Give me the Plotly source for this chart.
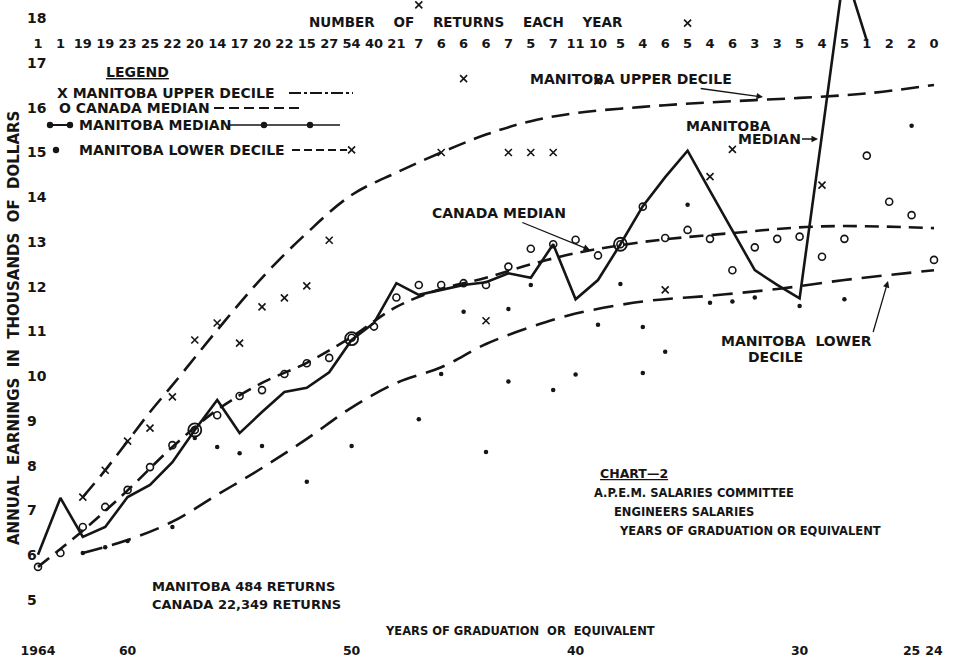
import plotly.graph_objects as go

W, H = 953, 666
INK = "#151515"
FONT = "DejaVu Sans"

# ---------------- data ----------------
years = list(range(1964, 1923, -1))  # 1964 ... 1924
returns_count = [1, 1, 19, 19, 23, 25, 22, 20, 14, 17,
                 20, 22, 15, 27, 54, 40, 21, 7, 6, 6,
                 6, 7, 5, 7, 11, 10, 5, 4, 6, 5,
                 4, 6, 3, 3, 5, 4, 5, 1, 2, 2, 0]

# Manitoba median (solid line), 1964 ... 1927
mb_median_years = list(range(1964, 1926, -1))
mb_median = [6.01, 7.28, 6.41, 6.63, 7.30, 7.57, 8.08, 8.80, 9.47, 8.73,
             9.20, 9.65, 9.74, 10.09, 10.81, 11.19, 12.08, 11.82, 11.93, 12.04,
             12.10, 12.30, 12.20, 12.95, 11.72, 12.15, 12.95, 13.80, 14.45, 15.04,
             14.14, 13.25, 12.37, 12.04, 11.74, 15.40, 19.10, 17.50]

# Canada median points (circles), 1964 ... 1924
canada_median = [5.74, 6.05, 6.63, 7.08, 7.46, 7.97, 8.46, 8.80, 9.13, 9.56,
                 9.69, 10.05, 10.29, 10.41, 10.86, 11.11, 11.76, 12.04, 12.04, 12.08,
                 12.04, 12.45, 12.85, 12.95, 13.05, 12.70, 12.95, 13.79, 13.09, 13.27,
                 13.07, 12.37, 12.88, 13.07, 13.12, 12.67, 13.07, 14.93, 13.90, 13.60,
                 12.60]
big_circle_years = [1957, 1950, 1938]
big_circle_vals = [8.80, 10.84, 12.95]

# Manitoba upper decile points (x)
upper_years = [1962, 1961, 1960, 1959, 1958, 1957, 1956, 1955, 1954, 1953,
               1952, 1951, 1950, 1947, 1946, 1945, 1944, 1943, 1942, 1941,
               1939, 1936, 1935, 1934, 1933, 1929]
upper_vals = [7.30, 7.90, 8.55, 8.84, 9.54, 10.81, 11.19, 10.74, 11.55, 11.75,
              12.02, 13.04, 15.06, 18.30, 15.00, 16.65, 11.24, 15.00, 15.00, 15.00,
              16.60, 11.93, 17.89, 14.46, 15.07, 14.27]

# Manitoba lower decile points (dots)
lower_years = [1962, 1961, 1960, 1958, 1957, 1956, 1955, 1954, 1952, 1950,
               1947, 1946, 1945, 1944, 1943, 1943, 1942, 1941, 1940, 1939,
               1938, 1937, 1937, 1936, 1935, 1934, 1933, 1932, 1930, 1928, 1925]
lower_vals = [6.05, 6.18, 6.32, 6.63, 8.62, 8.42, 8.28, 8.44, 7.64, 8.44,
              9.04, 10.05, 11.44, 8.31, 11.50, 9.88, 12.04, 9.69, 10.04, 11.15,
              12.06, 11.10, 10.07, 10.55, 13.83, 11.64, 11.67, 11.76, 11.57, 11.72, 15.60]

# Hand-fitted smooth curves (dashed)
upper_curve_years = [1962, 1961, 1960, 1959, 1958, 1956, 1954, 1952, 1950, 1948,
                     1946, 1944, 1942, 1940, 1937, 1934, 1930, 1927, 1924]
upper_curve = [7.30, 7.90, 8.55, 9.20, 9.80, 11.03, 12.20, 13.20, 14.05, 14.55,
               15.00, 15.40, 15.70, 15.88, 16.02, 16.12, 16.22, 16.32, 16.51]

canada_curve_years = [1964, 1962, 1960, 1958, 1956, 1954, 1952, 1950, 1948, 1946,
                      1944, 1942, 1940, 1937, 1933, 1929, 1924]
canada_curve = [5.74, 6.55, 7.45, 8.42, 9.25, 9.85, 10.30, 10.88, 11.55, 11.95,
                12.20, 12.50, 12.75, 13.00, 13.20, 13.35, 13.31]

lower_curve_years = [1962, 1960, 1958, 1956, 1954, 1952, 1950, 1948, 1946, 1944,
                     1942, 1940, 1937, 1934, 1931, 1928, 1924]
lower_curve = [6.05, 6.34, 6.75, 7.35, 7.95, 8.60, 9.30, 9.85, 10.20, 10.72,
               11.10, 11.40, 11.67, 11.80, 11.95, 12.15, 12.37]

y_ticks = list(range(5, 19))
x_tickvals = [1964, 1960, 1950, 1940, 1930, 1925, 1924]
x_ticktext = ["1964", "60", "50", "40", "30", "25", "24"]
count_row_level = 17.40      # height of the "number of returns" row
year_label_level = 3.84      # height of the year labels row

# ---------------- axes geometry ----------------
PX_PER_YEAR = 22.4
PX_PER_K = 44.75
X_LEFT = 1964 + 38 / PX_PER_YEAR
X_RIGHT = X_LEFT - W / PX_PER_YEAR
Y_TOP = 5 + 600 / PX_PER_K
Y_BOT = Y_TOP - H / PX_PER_K


def px(x):
    return x / W


def py(y):
    return 1 - y / H


def f(size=14):
    return dict(family=FONT, size=size, color=INK, weight="bold")


fig = go.Figure()

fig.add_trace(go.Scatter(x=upper_curve_years, y=upper_curve, mode="lines",
                         line=dict(color=INK, width=2.6, dash="18px,9px", shape="spline"),
                         hoverinfo="skip"))
fig.add_trace(go.Scatter(x=canada_curve_years, y=canada_curve, mode="lines",
                         line=dict(color=INK, width=2.6, dash="14px,8px", shape="spline"),
                         hoverinfo="skip"))
fig.add_trace(go.Scatter(x=lower_curve_years, y=lower_curve, mode="lines",
                         line=dict(color=INK, width=2.6, dash="20px,10px", shape="spline"),
                         hoverinfo="skip"))
fig.add_trace(go.Scatter(x=mb_median_years, y=mb_median, mode="lines",
                         line=dict(color=INK, width=2.6), hoverinfo="skip"))
fig.add_trace(go.Scatter(x=upper_years, y=upper_vals, mode="markers",
                         marker=dict(symbol="x-thin-open", size=7, color=INK,
                                     line=dict(color=INK, width=1.6))))
fig.add_trace(go.Scatter(x=years, y=canada_median, mode="markers",
                         marker=dict(symbol="circle-open", size=7, color=INK,
                                     line=dict(color=INK, width=1.6))))
fig.add_trace(go.Scatter(x=big_circle_years, y=big_circle_vals, mode="markers",
                         marker=dict(symbol="circle-open", size=13, color=INK,
                                     line=dict(color=INK, width=1.8))))
fig.add_trace(go.Scatter(x=lower_years, y=lower_vals, mode="markers",
                         marker=dict(symbol="circle", size=4.5, color=INK)))
fig.add_trace(go.Scatter(x=years, y=[count_row_level] * len(years), mode="text",
                         text=[str(c) for c in returns_count],
                         textfont=f(13), hoverinfo="skip", cliponaxis=False))
fig.add_trace(go.Scatter(x=x_tickvals, y=[year_label_level] * len(x_tickvals), mode="text",
                         text=x_ticktext, textfont=f(12.5), hoverinfo="skip",
                         cliponaxis=False))

ann = []


def text(x, y, s, size=14, anchor="center", **kw):
    ann.append(dict(x=px(x), y=py(y), xref="paper", yref="paper", text=s,
                    showarrow=False, xanchor=anchor, yanchor="middle",
                    font=f(size), **kw))


def arrow(x_head, y_head, x_tail, y_tail):
    ann.append(dict(x=px(x_head), y=py(y_head), xref="paper", yref="paper",
                    text=" ", showarrow=True, ax=x_tail - x_head, ay=y_tail - y_head,
                    arrowhead=2, arrowsize=1, arrowwidth=1.3, arrowcolor=INK,
                    font=f(4)))


NB = "\u00a0"


def sp(s, n=1):
    return s.replace(" ", NB * n)


text(466, 22, sp("NUMBER OF RETURNS EACH YEAR", 4), 13.5)
text(14, 328, sp("ANNUAL EARNINGS IN THOUSANDS OF DOLLARS", 2), 15, textangle=-90)
text(520, 631, sp("YEARS OF GRADUATION  OR  EQUIVALENT"), 11.5)

# legend block
text(137, 72, "<span style='text-decoration:underline'>LEGEND</span>", 14)
text(55, 93, "X MANITOBA UPPER DECILE", 14, anchor="left")
text(57, 108, "O CANADA MEDIAN", 14, anchor="left")
text(77, 125, "MANITOBA MEDIAN", 14, anchor="left")
text(77, 150, "MANITOBA LOWER DECILE", 14, anchor="left")

# curve labels
ann.append(dict(x=px(763), y=py(97), xref="paper", yref="paper",
                text="MANITOBA UPPER DECILE", showarrow=True, ax=-132, ay=-18,
                arrowhead=2, arrowsize=1, arrowwidth=1.3, arrowcolor=INK, font=f(14)))
text(728, 126, "MANITOBA", 14)
ann.append(dict(x=px(818), y=py(139), xref="paper", yref="paper",
                text="MEDIAN", showarrow=True, ax=-49, ay=0,
                arrowhead=2, arrowsize=1, arrowwidth=1.3, arrowcolor=INK, font=f(14)))
ann.append(dict(x=px(590), y=py(250), xref="paper", yref="paper",
                text="CANADA MEDIAN", showarrow=True, ax=-91, ay=-37,
                arrowhead=2, arrowsize=1, arrowwidth=1.3, arrowcolor=INK, font=f(14)))
text(796, 341, sp("MANITOBA LOWER", 2), 14)
text(775, 357, "DECILE", 14)
arrow(888, 281, 872, 336)

# chart title block
text(634, 474, "<span style='text-decoration:underline'>CHART—2</span>", 12.5)
text(592, 493, sp("A.P.E.M. SALARIES COMMITTEE"), 11.5, anchor="left")
text(612, 512, sp("ENGINEERS SALARIES"), 11.5, anchor="left")
text(617, 531, sp("YEARS OF GRADUATION OR EQUIVALENT"), 11.5, anchor="left")

text(150, 586, sp("MANITOBA 484 RETURNS"), 13, anchor="left")
text(150, 604, sp("CANADA 22,349 RETURNS"), 13, anchor="left")

# legend sample lines (decoration)
shapes = []


def hline(x0, x1, y, dash="solid", width=1.8):
    shapes.append(dict(type="line", xref="paper", yref="paper",
                       x0=px(x0), x1=px(x1), y0=py(y), y1=py(y),
                       line=dict(color=INK, width=width, dash=dash)))


def dot(x, y, r=3.2):
    shapes.append(dict(type="circle", xref="paper", yref="paper",
                       x0=px(x - r), x1=px(x + r), y0=py(y + r), y1=py(y - r),
                       fillcolor=INK, line=dict(color=INK, width=0)))


hline(289, 353, 93, dash="12px,3px,3px,3px")
hline(214, 303, 108, dash="10px,5px")
hline(50, 70, 125, width=2)
dot(50, 125)
dot(70, 125)
hline(228, 340, 125, width=1.6)
dot(264, 125)
dot(310, 125)
dot(56, 150)
hline(292, 347, 150, dash="8px,4px")

fig.update_layout(
    width=W, height=H,
    margin=dict(l=0, r=0, t=0, b=0),
    paper_bgcolor="white", plot_bgcolor="white",
    showlegend=False,
    font=f(13),
    annotations=ann,
    shapes=shapes,
    xaxis=dict(range=[X_LEFT, X_RIGHT], showgrid=False, zeroline=False, showline=False,
               ticks="", showticklabels=False),
    yaxis=dict(range=[Y_BOT, Y_TOP], showgrid=False, zeroline=False, showline=False,
               ticks="", tickvals=y_ticks, ticktext=[str(v) for v in y_ticks],
               ticklabelposition="inside", ticklabelstandoff=24, tickfont=f(14)),
)

# the page's default 8px body margin would push the 953x666 figure out of the window
fig.write_html("out.html", config={"displayModeBar": False},
               post_script="document.body.style.margin='0';")
